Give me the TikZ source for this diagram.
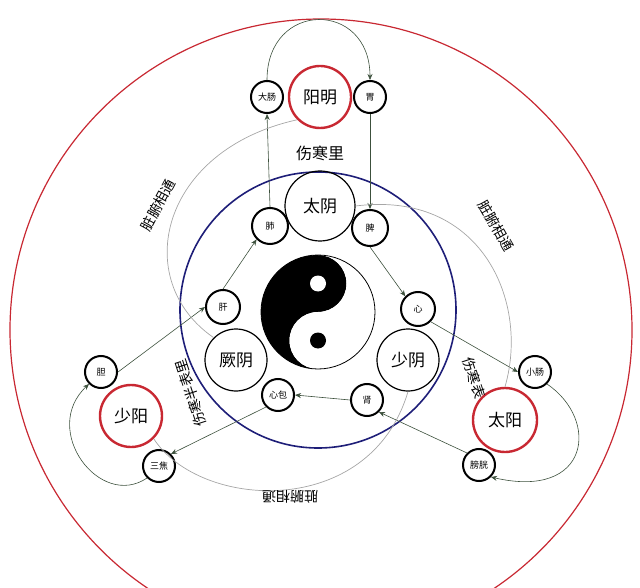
\documentclass[tikz,border=0pt]{standalone}
\usepackage{fontspec}
\setmainfont{Noto Sans CJK SC}
\usepackage{tikz}
\usetikzlibrary{arrows.meta}
\tikzset{>={Stealth[width=5pt,length=6pt]}}
\definecolor{jred}{RGB}{200,40,50}
\definecolor{jblue}{RGB}{30,30,120}
\definecolor{jgreen}{RGB}{60,80,60}
\tikzset{
  bigring/.style={circle, draw=jred, line width=2.4pt, minimum size=62pt, inner sep=0pt, font=\fontsize{17}{17}\selectfont},
  yinring/.style={circle, draw=black, line width=1.2pt, minimum size=62pt, inner sep=0pt, font=\fontsize{17}{17}\selectfont},
  organ/.style={circle, draw=black, line width=2pt, minimum size=32pt, inner sep=0pt, font=\fontsize{9}{9}\selectfont},
  flow/.style={->, draw=jgreen, line width=0.6pt},
  link/.style={draw=gray!70, line width=0.7pt},
  tag/.style={font=\fontsize{14}{14}\selectfont}
}
\begin{document}
\begin{tikzpicture}[x=1pt, y=-1pt]
  \useasboundingbox (0,0) rectangle (640,588);

  % rings
  \draw[jred, line width=1.2pt] (321,330) circle (311pt);
  \draw[jblue, line width=1.6pt] (318,310) circle (138pt);

  % taiji
  \begin{scope}[shift={(318,312)}, xscale=-1]
    \fill[black] (0,-57) arc (-90:90:57) arc (90:-90:28.5) arc (90:270:28.5);
    \fill[white] (0,57) arc (90:270:57) arc (270:90:28.5) arc (-90:90:28.5);
    \draw[line width=0.8pt] (0,0) circle (57pt);
    \fill[white] (0,-28.5) circle (8pt);
    \fill[black] (0,28.5) circle (8pt);
  \end{scope}

  % channels
  \node[bigring] (yangming) at (320,97) {阳明};
  \node[yinring, minimum size=70pt] (taiyin) at (320,206) {太阴};
  \node[yinring] (jueyin) at (236,360) {厥阴};
  \node[yinring] (shaoyin) at (408,360) {少阴};
  \node[bigring] (shaoyang) at (131,416) {少阳};
  \node[bigring, minimum size=64pt] (taiyang) at (505,420) {太阳};

  % organs
  \node[organ] (dachang) at (267,97) {大肠};
  \node[organ] (wei) at (370,97) {胃};
  \node[organ, minimum size=36pt] (fei) at (270,226) {肺};
  \node[organ, minimum size=36pt] (pi) at (370,228) {脾};
  \node[organ, minimum size=34pt] (gan) at (223,307) {肝};
  \node[organ, minimum size=34pt] (xin) at (418,309) {心};
  \node[organ] (xinbao) at (278,395) {心包};
  \node[organ] (shen) at (367,400) {肾};
  \node[organ] (dan) at (101,372) {胆};
  \node[organ] (sanjiao) at (159,466) {三焦};
  \node[organ] (xiaochang) at (535,372) {小肠};
  \node[organ] (pangguang) at (479,465) {膀胱};

  % flows
  \draw[flow] (dachang.north) .. controls (267,0) and (370,0) .. (wei.north);
  \draw[flow] (wei.south) -- (pi.north);
  \draw[flow] (fei.north) -- (dachang.south);
  \draw[flow] (pi.south) -- (xin.north west);
  \draw[flow] (gan.north) -- (fei.south west);
  \draw[flow] (xin.south east) -- (xiaochang.west);
  \draw[flow] (xiaochang.south east) .. controls (600,420) and (590,500) .. (pangguang.south east);
  \draw[flow] (pangguang.north west) -- (shen.south east);
  \draw[flow] (shen.west) -- (xinbao.east);
  \draw[flow] (xinbao.south west) -- (sanjiao.north east);
  \draw[flow] (sanjiao.south west) .. controls (100,510) and (40,430) .. (dan.south west);
  \draw[flow] (dan.east) -- (gan.west);

  % zang-fu links
  \draw[link] (yangming.south west) .. controls (160,150) and (130,280) .. (jueyin.north west);
  \draw[link] (taiyin.east) .. controls (480,190) and (530,300) .. (taiyang.north);
  \draw[link] (shaoyin.south) .. controls (370,520) and (200,510) .. (shaoyang.south east);

  % labels
  \node[tag, font=\fontsize{16}{16}\selectfont] (li) at (320,153) {伤寒里};
  \node[tag, rotate=62] (tongl) at (158,205) {脏腑相通};
  \node[tag, rotate=-60] (tongr) at (496,226) {脏腑相通};
  \node[tag, rotate=180] (tongb) at (290,497) {脏腑相通};
  \node[tag, rotate=-72] (biao) at (474,378) {伤寒表};
  \node[tag, rotate=108] (banbiao) at (191,393) {伤寒半表里};
\end{tikzpicture}
\end{document}
